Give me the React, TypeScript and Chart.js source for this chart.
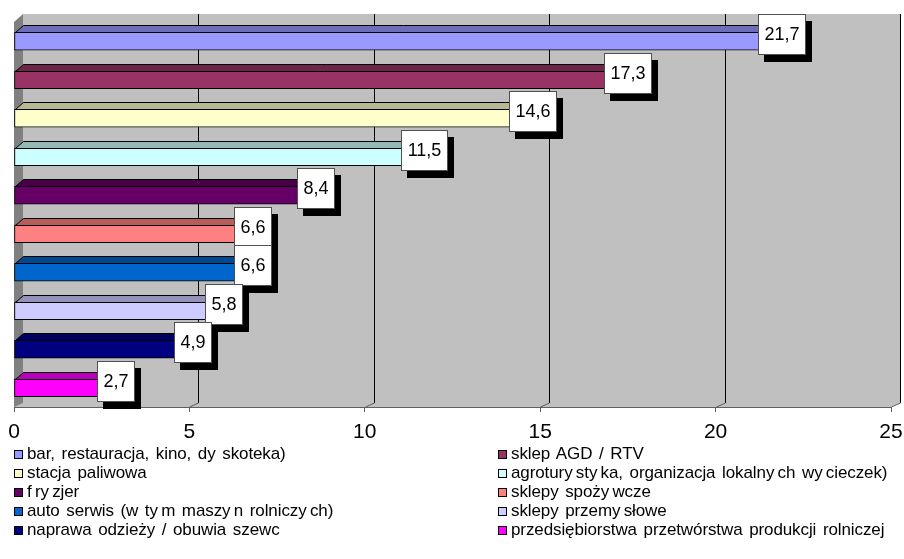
import React, { useEffect, useRef } from "react";
import { Chart, registerables } from "chart.js";

Chart.register(...registerables);

const FONT = "Arial, 'Liberation Sans', sans-serif";

const categories = [
  "bar, restauracja, kino, dy skoteka)",
  "sklep AGD / RTV",
  "stacja paliwowa",
  "agrotury\u2009sty\u2009ka, organizacja lokalny\u2009ch wy\u2009cieczek)",
  "f\u2009ry\u2009zjer",
  "sklepy spoży\u2009wcze",
  "auto serwis (w ty\u2009m maszy\u2009n rolniczy\u2009ch)",
  "sklepy przemy\u2009słowe",
  "naprawa odzieży / obuwia szewc",
  "przedsiębiorstwa przetwórstwa produkcji rolniczej",
];

const values = [21.7, 17.3, 14.6, 11.5, 8.4, 6.6, 6.6, 5.8, 4.9, 2.7];

const colors = [
  "#9999FF",
  "#993366",
  "#FFFFCC",
  "#CCFFFF",
  "#660066",
  "#FF8080",
  "#0066CC",
  "#CCCCFF",
  "#000080",
  "#FF00FF",
];

const xMin = 0;
const xMax = 25;
const xStep = 5;

function shade(hex: string, f: number) {
  const n = parseInt(hex.slice(1), 16);
  const r = Math.round(((n >> 16) & 255) * f);
  const g = Math.round(((n >> 8) & 255) * f);
  const b = Math.round((n & 255) * f);
  return `rgb(${r},${g},${b})`;
}

const fmt = (v: number) => v.toFixed(1).replace(".", ",");

const wallPlugin = {
  id: "wall3d",
  beforeDraw(chart: any) {
    const { ctx, chartArea } = chart;
    const { left, right, top, bottom } = chartArea;
    const xs = chart.scales.x;
    const T = top - 8;
    const D = 9;
    const F = 4;
    ctx.save();
    ctx.fillStyle = "#C0C0C0";
    ctx.beginPath();
    ctx.moveTo(left + D, T);
    ctx.lineTo(right + D + 1, T);
    ctx.lineTo(right + D + 1, bottom - F);
    ctx.lineTo(right, bottom);
    ctx.lineTo(left, bottom);
    ctx.closePath();
    ctx.fill();
    ctx.fillStyle = "#808080";
    ctx.beginPath();
    ctx.moveTo(left, T + 8);
    ctx.lineTo(left + D, T);
    ctx.lineTo(left + D, bottom - F);
    ctx.lineTo(left, bottom);
    ctx.closePath();
    ctx.fill();
    ctx.lineWidth = 1;
    xs.ticks.forEach((t: any) => {
      if (t.value === xMin) return;
      const xf = Math.round(xs.getPixelForValue(t.value));
      ctx.strokeStyle = "#000";
      ctx.beginPath();
      ctx.moveTo(xf + D + 0.5, T);
      ctx.lineTo(xf + D + 0.5, bottom - F);
      ctx.stroke();
      ctx.strokeStyle = "#606060";
      ctx.beginPath();
      ctx.moveTo(xf + D + 0.5, bottom - F);
      ctx.lineTo(xf + 0.5, bottom);
      ctx.stroke();
    });
    ctx.restore();
  },
  afterDatasetsDraw(chart: any) {
    const { ctx } = chart;
    const meta = chart.getDatasetMeta(0);
    const dx = 8;
    const dy = 7;
    ctx.save();
    ctx.lineWidth = 1;
    ctx.strokeStyle = "#000";
    meta.data.forEach((el: any, i: number) => {
      const { x, y, base, height } = el.getProps(["x", "y", "base", "height"], true);
      const yTop = Math.round(y - height / 2) + 0.5;
      const yBot = Math.round(y + height / 2) + 0.5;
      const x0 = Math.round(base) + 0.5;
      const x1 = Math.round(x) + 0.5;
      ctx.fillStyle = shade(colors[i], 0.72);
      ctx.beginPath();
      ctx.moveTo(x0, yTop);
      ctx.lineTo(x0 + dx, yTop - dy);
      ctx.lineTo(x1 + dx, yTop - dy);
      ctx.lineTo(x1, yTop);
      ctx.closePath();
      ctx.fill();
      ctx.stroke();
      ctx.fillStyle = shade(colors[i], 0.55);
      ctx.beginPath();
      ctx.moveTo(x1, yTop);
      ctx.lineTo(x1 + dx, yTop - dy);
      ctx.lineTo(x1 + dx, yBot - dy);
      ctx.lineTo(x1, yBot);
      ctx.closePath();
      ctx.fill();
      ctx.stroke();
    });
    ctx.font = `18px ${FONT}`;
    ctx.textAlign = "center";
    ctx.textBaseline = "middle";
    meta.data.forEach((el: any, i: number) => {
      const { x, y } = el.getProps(["x", "y"], true);
      const text = fmt(values[i]);
      const w = Math.round(ctx.measureText(text).width + 13);
      const h = 41;
      const cx = x + 7;
      const cy = y - 6.5;
      const bx = Math.round(cx - w / 2);
      const by = Math.round(cy - h / 2);
      ctx.fillStyle = "#000";
      ctx.fillRect(bx + 6, by + 7, w, h);
      ctx.fillStyle = "#fff";
      ctx.fillRect(bx, by, w, h);
      ctx.strokeStyle = "#505050";
      ctx.strokeRect(bx + 0.5, by + 0.5, w - 1, h - 1);
      ctx.fillStyle = "#000";
      ctx.fillText(text, bx + w / 2, by + h / 2 + 1);
    });
    ctx.restore();
  },
};

export default function App() {
  const ref = useRef<HTMLCanvasElement | null>(null);

  useEffect(() => {
    document.body.style.margin = "0";
    const canvas = ref.current;
    if (!canvas) return;
    const chart = new Chart(canvas, {
      type: "bar",
      data: {
        labels: categories,
        datasets: [
          {
            data: values,
            backgroundColor: colors,
            borderColor: "#000",
            borderWidth: 1,
            borderSkipped: false,
            barThickness: 18,
          },
        ],
      },
      options: {
        indexAxis: "y",
        responsive: false,
        animation: false,
        layout: { padding: { left: 14, right: 13, top: 22, bottom: 0 } },
        plugins: {
          legend: { display: false },
          tooltip: { enabled: false },
        },
        scales: {
          x: {
            type: "linear",
            min: xMin,
            max: xMax,
            ticks: {
              stepSize: xStep,
              color: "#000",
              font: { family: FONT, size: 21 },
              padding: 8,
              maxRotation: 0,
            },
            grid: {
              drawOnChartArea: false,
              drawTicks: true,
              tickLength: 5,
              color: "#606060",
            },
            border: { display: true, color: "#606060", width: 1 },
            afterFit: (s: any) => {
              s.height = 43;
              s.paddingLeft = 0;
              s.paddingRight = 0;
            },
          },
          y: {
            display: false,
          },
        },
      },
      plugins: [wallPlugin],
    });
    return () => chart.destroy();
  }, []);

  return (
    <div
      style={{
        position: "absolute",
        left: 0,
        top: 0,
        width: 904,
        height: 559,
        background: "#fff",
        fontFamily: FONT,
        overflow: "hidden",
      }}
    >
      <canvas ref={ref} width={904} height={450} style={{ position: "absolute", left: 0, top: 0 }} />
      <div
        style={{
          position: "absolute",
          left: 14,
          top: 444,
          display: "grid",
          gridTemplateColumns: "484px 405px",
          gridAutoRows: "19px",
          fontSize: 17,
          letterSpacing: "-0.1px",
          wordSpacing: "2px",
          lineHeight: "19px",
          color: "#000",
        }}
      >
        {categories.map((c, i) => (
          <div key={i} style={{ whiteSpace: "pre" }}>
            <span
              style={{
                display: "inline-block",
                width: 7,
                height: 7,
                border: "1px solid #000",
                background: colors[i],
                marginRight: 4,
              }}
            />
            {c}
          </div>
        ))}
      </div>
    </div>
  );
}
